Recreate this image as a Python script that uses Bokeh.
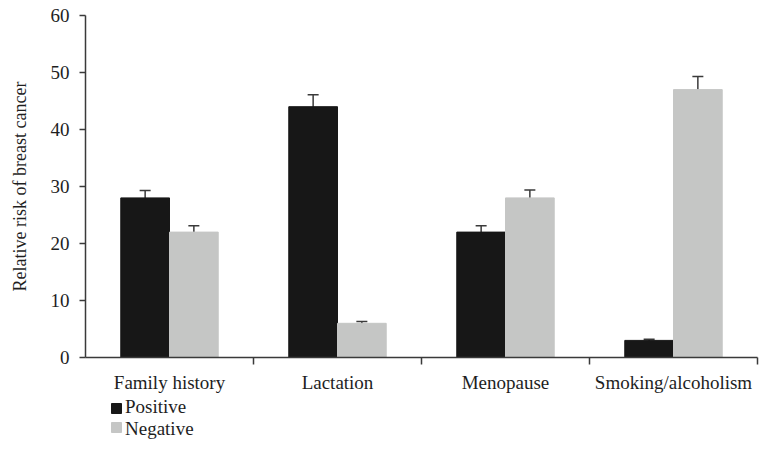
from bokeh.plotting import figure
from bokeh.layouts import column
from bokeh.models import (ColumnDataSource, Whisker, TeeHead, FixedTicker, Range1d,
                          Legend, LegendItem)
from bokeh.embed import file_html
from bokeh.resources import INLINE

categories = ["Family history", "Lactation", "Menopause", "Smoking/alcoholism"]
positive = [28, 44, 22, 3]
positive_err = [1.3, 2.1, 1.1, 0.2]
negative = [22, 6, 28, 47]
negative_err = [1.1, 0.3, 1.4, 2.3]
y_ticks = [0, 10, 20, 30, 40, 50, 60]
series_names = ["Positive", "Negative"]

FONT = "Liberation Serif"
FS = "19px"
POS_COLOR = "#171717"
NEG_COLOR = "#c5c6c5"
AXIS_COLOR = "#3a3a3a"
TEXT_COLOR = "#1e1e1e"

bar_w = 0.29
centers = [i + 0.5 for i in range(len(categories))]
pos_x = [c - bar_w / 2 for c in centers]
neg_x = [c + bar_w / 2 for c in centers]

pos_src = ColumnDataSource(dict(x=pos_x, top=positive,
                                upper=[v + e for v, e in zip(positive, positive_err)],
                                lower=[v - e for v, e in zip(positive, positive_err)]))
neg_src = ColumnDataSource(dict(x=neg_x, top=negative,
                                upper=[v + e for v, e in zip(negative, negative_err)],
                                lower=[v - e for v, e in zip(negative, negative_err)]))

p = figure(width=759, height=396, output_backend="svg", toolbar_location=None,
           x_range=Range1d(0, len(categories)), y_range=Range1d(0, 60),
           min_border_left=85, min_border_right=2, min_border_top=15, min_border_bottom=39)
p.outline_line_color = None
p.xgrid.visible = False
p.ygrid.visible = False

p.vbar(x="x", top="top", width=bar_w, source=pos_src, fill_color=POS_COLOR,
       line_color=POS_COLOR)
p.vbar(x="x", top="top", width=bar_w, source=neg_src, fill_color=NEG_COLOR,
       line_color=NEG_COLOR)

for src in (pos_src, neg_src):
    w = Whisker(base="x", upper="upper", lower="lower", source=src,
                line_color=AXIS_COLOR, line_width=1.5,
                upper_head=TeeHead(size=11, line_color=AXIS_COLOR, line_width=1.5),
                lower_head=TeeHead(size=11, line_color=AXIS_COLOR, line_width=1.5))
    p.add_layout(w)

# y axis
p.yaxis.ticker = FixedTicker(ticks=y_ticks)
p.yaxis.axis_label = "Relative risk of breast cancer"
p.yaxis.axis_label_text_font = FONT
p.yaxis.axis_label_text_font_style = "normal"
p.yaxis.axis_label_text_font_size = "18px"
p.yaxis.axis_label_text_color = TEXT_COLOR
p.yaxis.axis_label_standoff = 18
p.yaxis.major_label_text_font = FONT
p.yaxis.major_label_text_font_size = FS
p.yaxis.major_label_text_color = TEXT_COLOR
p.yaxis.major_label_standoff = 10
p.yaxis.major_tick_out = 6
p.yaxis.major_tick_in = 0
p.yaxis.minor_tick_line_color = None
p.yaxis.axis_line_color = AXIS_COLOR
p.yaxis.axis_line_width = 1.5
p.yaxis.major_tick_line_color = AXIS_COLOR
p.yaxis.major_tick_line_width = 1.5

# x axis: labels at centres, tick marks at category boundaries
p.xaxis.ticker = FixedTicker(ticks=centers, minor_ticks=list(range(1, len(categories) + 1)))
p.xaxis.major_label_overrides = {c: name for c, name in zip(centers, categories)}
p.xaxis.major_label_text_font = FONT
p.xaxis.major_label_text_font_size = FS
p.xaxis.major_label_text_color = TEXT_COLOR
p.xaxis.major_label_standoff = 7
p.xaxis.major_tick_line_color = None
p.xaxis.major_tick_out = 0
p.xaxis.major_tick_in = 0
p.xaxis.minor_tick_out = 7
p.xaxis.minor_tick_in = 0
p.xaxis.minor_tick_line_color = AXIS_COLOR
p.xaxis.minor_tick_line_width = 1.5
p.xaxis.axis_line_color = AXIS_COLOR
p.xaxis.axis_line_width = 1.5

# legend strip below the chart (its frame is aligned with the chart frame: 85..757 px)
lg = figure(width=759, height=60, output_backend="svg", toolbar_location=None,
            x_axis_type=None, y_axis_type=None,
            x_range=Range1d(85, 757), y_range=Range1d(60, 0),
            min_border_left=0, min_border_right=0, min_border_top=0, min_border_bottom=0)
lg.outline_line_color = None
lg.xgrid.visible = False
lg.ygrid.visible = False

# legend swatches (layout positions in the strip's pixel space)
sw_src = ColumnDataSource(dict(gx=[116, 116], gy=[12, 31], color=[POS_COLOR, NEG_COLOR]))
lg.rect(x="gx", y="gy", width=10, height=10, source=sw_src,
        fill_color="color", line_color="color")

empty = dict(x=[], top=[])
r_pos = lg.vbar(x="x", top="top", width=0.1, source=ColumnDataSource(empty),
                fill_color=POS_COLOR, line_color=POS_COLOR)
r_neg = lg.vbar(x="x", top="top", width=0.1, source=ColumnDataSource(empty),
                fill_color=NEG_COLOR, line_color=NEG_COLOR)
legend = Legend(items=[LegendItem(label=series_names[0], renderers=[r_pos]),
                       LegendItem(label=series_names[1], renderers=[r_neg])],
                orientation="vertical", location=(26, 16),
                label_text_font=FONT, label_text_font_size=FS,
                label_text_color=TEXT_COLOR, label_text_line_height=1.0,
                glyph_width=10, glyph_height=10, label_height=19, label_standoff=4,
                spacing=0, padding=0, margin=0, border_line_color=None,
                background_fill_alpha=0)
lg.add_layout(legend, "center")

layout = column(p, lg, spacing=0)
open("out.html", "w").write(file_html(layout, INLINE))
